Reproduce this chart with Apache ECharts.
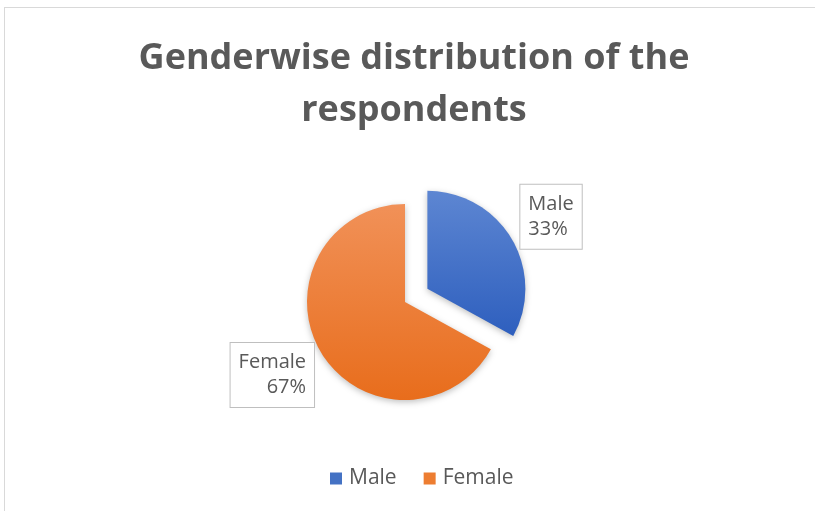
<!DOCTYPE html>
<html><head><meta charset="utf-8">
<script src="https://cdn.jsdelivr.net/npm/echarts@6/dist/echarts.min.js"></script>
<style>
html,body{margin:0;padding:0;background:#fff;overflow:hidden;}
#frame{position:absolute;left:4px;top:7px;width:900px;height:600px;border:1px solid #d9d9d9;box-sizing:border-box;}
#chart{position:absolute;left:0;top:0;width:815px;height:511px;}
</style></head>
<body>
<div id="frame"></div>
<div id="chart"></div>
<script>
const titleLines = ["Genderwise distribution of the", "respondents"];
const categories = ["Male", "Female"];
const values = [33, 67];
const colorsTop = ["#5d86d2", "#f19158"];
const colorsBottom = ["#2e5fbe", "#e86d1c"];

const chart = echarts.init(document.getElementById('chart'));
const data = categories.map((c, i) => ({
  name: c,
  value: values[i],
  selected: i === 0,
  itemStyle: {
    color: new echarts.graphic.LinearGradient(0, 0, 0, 1, [
      {offset: 0, color: colorsTop[i]},
      {offset: 1, color: colorsBottom[i]}
    ])
  }
}));
chart.setOption({
  animation: false,
  title: {
    text: titleLines.join('\n'),
    left: 409,
    textAlign: 'center',
    top: 28,
    textStyle: {fontFamily: 'Open Sans', fontWeight: 'bold', fontSize: 36, color: '#595959', lineHeight: 52}
  },
  legend: {
    top: 463,
    left: 325,
    icon: 'rect',
    itemWidth: 12,
    itemHeight: 12,
    itemGap: 27,
    textStyle: {fontFamily: 'Open Sans', fontSize: 21, color: '#595959', padding: [0, 0, 0, 2]},
    data: [
      {name: 'Male', itemStyle: {color: '#4472c4'}},
      {name: 'Female', itemStyle: {color: '#ed7d31'}}
    ]
  },
  series: [{
    type: 'pie',
    center: [405, 302],
    radius: 98,
    startAngle: 90,
    clockwise: true,
    selectedMode: 'single',
    selectedOffset: 26,
    itemStyle: {shadowColor: 'rgba(0,0,0,0.25)', shadowBlur: 6, shadowOffsetY: 2},
    label: {
      position: 'outside',
      formatter: p => p.name + '\n' + Math.round(p.percent) + '%',
      fontFamily: 'Open Sans',
      fontSize: 20,
      lineHeight: 25,
      color: '#595959',
      align: 'center',
      backgroundColor: '#fff',
      borderColor: '#bfbfbf',
      borderWidth: 1,
      padding: [8, 8, 6, 8]
    },
    labelLine: {show: false, length: 10, length2: 0},
    labelLayout: p => p.dataIndex === 0 ? {dx: -5, dy: -17} : {dx: 7, dy: 18},
    data: data
  }]
});
</script>
</body></html>
